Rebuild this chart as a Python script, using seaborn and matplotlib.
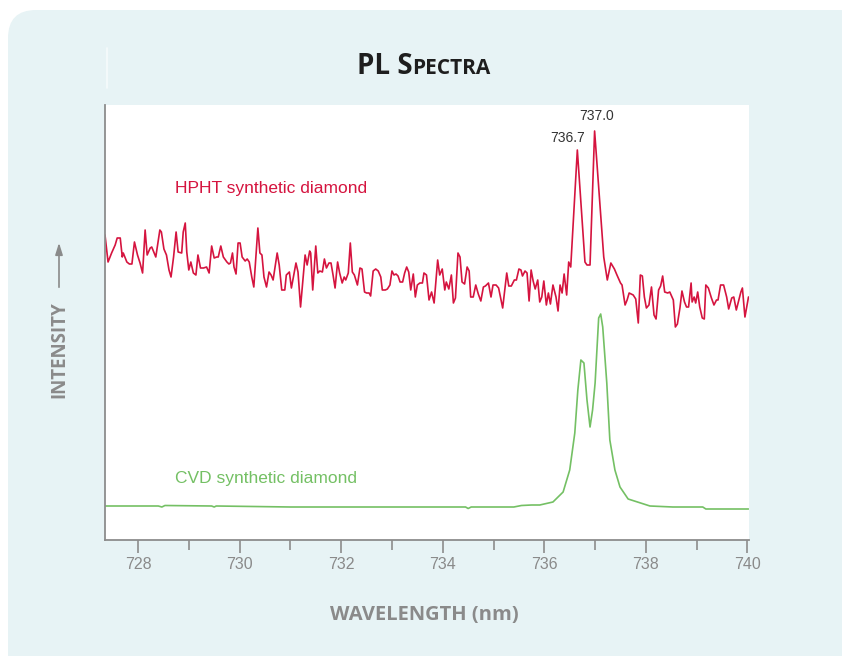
import matplotlib
matplotlib.use("Agg")
import matplotlib.pyplot as plt
from matplotlib.patches import FancyBboxPatch
from matplotlib.lines import Line2D
from matplotlib.ticker import MultipleLocator
import seaborn as sns
import pandas as pd

# ---- data (wavelength in nm, intensity in arbitrary units) ----
hpht_nm_a = [727.35, 727.41, 727.48, 727.55, 727.59, 727.65, 727.69, 727.71, 727.78, 727.83, 727.88, 727.93, 727.99,
             728.04, 728.09, 728.14, 728.18, 728.24, 728.27, 728.35, 728.43, 728.46, 728.51, 728.56, 728.61, 728.65,
             728.70, 728.75, 728.79, 728.86, 728.89, 728.93, 728.96,
             729.00, 729.04, 729.09, 729.14, 729.18, 729.23, 729.29, 729.35, 729.40, 729.45, 729.50, 729.55, 729.58,
             729.63, 729.68, 729.75, 729.79, 729.82, 729.86, 729.89, 729.93, 729.97,
             730.01, 730.05, 730.11, 730.15, 730.19, 730.24, 730.28, 730.36, 730.40, 730.44, 730.48]
hpht_int_a = [305, 278, 287, 295, 302, 302, 283, 287, 278, 276, 276, 298, 285,
              277, 267, 310, 285, 292, 293, 283, 310, 308, 291, 285, 270, 263, 283, 308, 288, 287, 308, 317, 288,
              270, 278, 267, 265, 285, 272, 272, 273, 267, 294, 282, 283, 283, 294, 283, 278, 276, 277, 287, 273, 266, 297,
              297, 283, 279, 281, 278, 263, 253, 312, 287, 285, 263]

hpht_nm_b = [730.53, 730.58, 730.62, 730.66, 730.74, 730.78, 730.83, 730.89, 730.92, 730.98,
             731.02, 731.11, 731.15, 731.20, 731.29, 731.33, 731.38, 731.40, 731.44, 731.50, 731.54, 731.58, 731.63,
             731.67, 731.71, 731.76, 731.80, 731.84, 731.88, 731.93, 731.97,
             732.02, 732.06, 732.09, 732.14, 732.18, 732.22, 732.26, 732.32, 732.37, 732.41, 732.46, 732.50, 732.55,
             732.58, 732.63, 732.68, 732.73, 732.78, 732.81, 732.87, 732.91, 732.96,
             733.00, 733.04, 733.08, 733.12, 733.16, 733.21, 733.25, 733.29, 733.33, 733.37, 733.42, 733.46, 733.50,
             733.55, 733.60, 733.63]
hpht_int_b = [253, 268, 265, 260, 287, 275, 250, 250, 265, 268,
              252, 277, 268, 233, 285, 275, 289, 287, 250, 294, 267, 269, 268, 281, 272, 277, 277, 265, 252, 278, 267,
              257, 263, 260, 267, 297, 268, 265, 255, 272, 271, 248, 247, 247, 244, 269, 271, 269, 263, 250, 250, 251, 255,
              269, 265, 266, 264, 258, 258, 267, 273, 268, 250, 266, 243, 255, 257, 257, 267]

hpht_nm_c = [733.68, 733.73, 733.78, 733.83, 733.90, 733.94, 733.99,
             734.04, 734.07, 734.12, 734.17, 734.21, 734.25, 734.30, 734.34, 734.38, 734.43, 734.48, 734.52, 734.55,
             734.60, 734.65, 734.70, 734.75, 734.80, 734.84, 734.90, 734.95, 734.99,
             735.05, 735.10, 735.14, 735.18, 735.26, 735.30, 735.35, 735.41, 735.45, 735.50, 735.54, 735.57, 735.62,
             735.66, 735.70, 735.74, 735.78, 735.82, 735.87, 735.91, 735.95, 735.99,
             736.04, 736.08, 736.12, 736.17, 736.23, 736.27, 736.31, 736.35, 736.39, 736.44, 736.48, 736.52]
hpht_int_c = [265, 240, 248, 237, 280, 265, 271,
              250, 258, 251, 265, 237, 242, 287, 283, 258, 256, 273, 269, 243, 243, 255, 246, 239, 253, 254, 257, 243, 255,
              255, 252, 242, 232, 267, 254, 254, 260, 260, 271, 270, 264, 269, 267, 239, 270, 259, 251, 260, 238, 243, 259,
              235, 247, 236, 255, 243, 229, 255, 247, 266, 245, 278, 273]

hpht_nm_d = [736.65, 736.80, 736.84, 736.90, 736.99,
             737.17, 737.24, 737.31, 737.38, 737.43, 737.50, 737.53, 737.59, 737.63, 737.67, 737.75, 737.80, 737.85,
             737.89, 737.93, 737.97,
             738.01, 738.06, 738.11, 738.16, 738.20, 738.25, 738.29, 738.33, 738.37, 738.43, 738.47, 738.54, 738.58,
             738.62, 738.67, 738.71, 738.76, 738.80, 738.84, 738.89, 738.91, 738.95, 738.98,
             739.02, 739.06, 739.11, 739.15, 739.18, 739.23, 739.29, 739.34, 739.39, 739.42, 739.47, 739.53, 739.59,
             739.63, 739.69, 739.73, 739.78, 739.83, 739.87, 739.90, 739.95, 740.02]
hpht_int_d = [390, 278, 275, 275, 409,
              283, 260, 277, 271, 265, 257, 255, 235, 240, 247, 245, 241, 217, 265, 264, 243,
              232, 235, 253, 225, 221, 250, 254, 264, 248, 247, 248, 240, 213, 216, 232, 249, 238, 233, 233, 257, 238, 243, 237,
              248, 233, 222, 221, 255, 252, 242, 235, 240, 240, 255, 255, 243, 231, 242, 243, 230, 240, 248, 252, 223, 243]

cvd_nm = [727.35, 728.40, 728.47, 728.53, 729.45, 729.50, 729.54, 731.00, 733.50, 734.45, 734.50, 734.56,
          735.40, 735.55, 735.75, 735.91, 736.17, 736.37, 736.50, 736.60, 736.66, 736.72, 736.78, 736.84, 736.90,
          736.95, 737.00, 737.07, 737.11, 737.15, 737.23, 737.29, 737.39, 737.49, 737.65, 738.08, 738.53, 739.12,
          739.18, 740.02]
cvd_int = [34, 34, 33, 34.5, 34, 33, 34, 33, 33, 33, 31.5, 33,
           33, 34.5, 35, 35, 38, 48, 70, 107, 150, 180, 177, 140, 113,
           130, 157, 222, 226, 213, 157, 100, 70, 53, 41, 34, 33, 33,
           31, 31]

peak_labels = ["736.7", "737.0"]
peak_label_nm = [736.45, 737.03]
peak_label_int = [402, 424]

xticks = [728, 730, 732, 734, 736, 738, 740]

hpht = pd.DataFrame({"nm": hpht_nm_a + hpht_nm_b + hpht_nm_c + hpht_nm_d,
                     "intensity": hpht_int_a + hpht_int_b + hpht_int_c + hpht_int_d})
cvd = pd.DataFrame({"nm": cvd_nm, "intensity": cvd_int})

RED = "#d5143f"
GREEN = "#74c064"
PANEL = "#e7f3f5"
GREY = "#8a8a8a"
HEAD_FONT = ["Open Sans", "DejaVu Sans"]

sns.set_style("white")
plt.rcParams["font.family"] = ["Liberation Sans", "DejaVu Sans"]

W, H = 842, 656
fig = plt.figure(figsize=(W / 100, H / 100), dpi=100)
fig.patch.set_facecolor("white")

# rounded light panel behind everything (display pixels)
panel = FancyBboxPatch((8, -40), 860, H - 10 + 40, boxstyle="round,pad=0,rounding_size=28",
                       transform=None, facecolor=PANEL, edgecolor="none", zorder=0)
fig.add_artist(panel)
fig.add_artist(Line2D([107 / W, 107 / W], [1 - 48 / H, 1 - 88 / H], color="#f6fbfc", lw=1.2))

ax = fig.add_axes([105 / W, (H - 540) / H, 644 / W, 435 / H])
ax.set_facecolor("white")

sns.lineplot(data=hpht, x="nm", y="intensity", ax=ax, color=RED, linewidth=1.2, estimator=None, sort=False)
sns.lineplot(data=cvd, x="nm", y="intensity", ax=ax, color=GREEN, linewidth=1.2, estimator=None, sort=False)

ax.set_xlim(727.35, 740.03)
ax.set_ylim(0, 435)
ax.set_xticks(xticks)
ax.set_xticklabels([str(t) for t in xticks], family=["Liberation Sans Narrow", "Liberation Sans"])
ax.xaxis.set_minor_locator(MultipleLocator(1))
ax.set_yticks([])
ax.set_xlabel("")
ax.set_ylabel("")
sns.despine(ax=ax, top=True, right=True)
for s in ["left", "bottom"]:
    ax.spines[s].set_color("#8c8c8c")
    ax.spines[s].set_linewidth(1.3)
ax.tick_params(axis="x", which="major", direction="out", length=9, width=1.2, color="#8c8c8c",
               labelsize=11.5, labelcolor=GREY, pad=3, bottom=True)
ax.tick_params(axis="x", which="minor", direction="out", length=7, width=1.2, color="#8c8c8c", bottom=True)

for lab, x, y in zip(peak_labels, peak_label_nm, peak_label_int):
    ax.text(x, y, lab, ha="center", va="center", fontsize=10, color="#333333")

ax.text(728.73, 352, "HPHT synthetic diamond", color=RED, fontsize=12.5, va="center", ha="left")
ax.text(728.73, 62, "CVD synthetic diamond", color=GREEN, fontsize=12.5, va="center", ha="left")

# title with small caps: two texts on one baseline
title_y = 1 - 74 / H
t1 = fig.text(357 / W, title_y, "PL S", fontsize=20, fontweight="bold", family=HEAD_FONT,
              color="#1e1e1e", ha="left", va="baseline")
fig.canvas.draw()
x_end = t1.get_window_extent().x1
fig.text(x_end / W, title_y, "PECTRA", fontsize=15, fontweight="bold", family=HEAD_FONT,
         color="#1e1e1e", ha="left", va="baseline")

# axis titles
fig.text(424 / W, 1 - 615 / H, "WAVELENGTH (nm)", fontsize=14.5, fontweight="bold", family=HEAD_FONT,
         color=GREY, ha="center", va="center")
fig.text(59 / W, 1 - 350 / H, "INTENSITY", fontsize=13.5, fontweight="bold", family=HEAD_FONT,
         color=GREY, ha="center", va="center", rotation=90)
ax.annotate("", xy=(59 / W, 1 - 240 / H), xytext=(59 / W, 1 - 290 / H),
            xycoords="figure fraction", textcoords="figure fraction",
            arrowprops=dict(arrowstyle="-|>,head_length=0.7,head_width=0.22", color=GREY, lw=1.2),
            annotation_clip=False)

fig.savefig("out.png", dpi=100, facecolor=fig.get_facecolor())
